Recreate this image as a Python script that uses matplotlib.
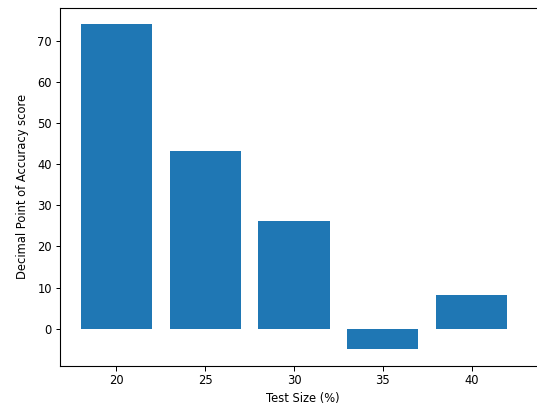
import matplotlib
matplotlib.use("Agg")
import matplotlib.pyplot as plt

test_sizes = [20, 25, 30, 35, 40]
scores = [74.1, 43.2, 26.3, -5.0, 8.1]

W, H, DPI = 537, 410, 72
fig = plt.figure(figsize=(W / DPI, H / DPI), dpi=DPI)
left, right, top, bottom = 60, 545, 7.5, 365.7
ax = fig.add_axes([left / W, (H - bottom) / H, (right - left) / W, (bottom - top) / H])
ax.bar(test_sizes, scores, width=4, color="#1f77b4")
ax.set_xlim(16.83, 16.83 + (right - left) / 17.77)
ax.set_xlabel("Test Size (%)", fontsize=11.5, labelpad=5)
ax.set_ylabel("Decimal Point of Accuracy score", fontsize=11.5, labelpad=8)
ax.tick_params(labelsize=11.5, length=4.5, width=1)
for s in ax.spines.values():
    s.set_linewidth(1.1)
ax.spines["right"].set_visible(False)
fig.savefig("out.png", dpi=DPI)
